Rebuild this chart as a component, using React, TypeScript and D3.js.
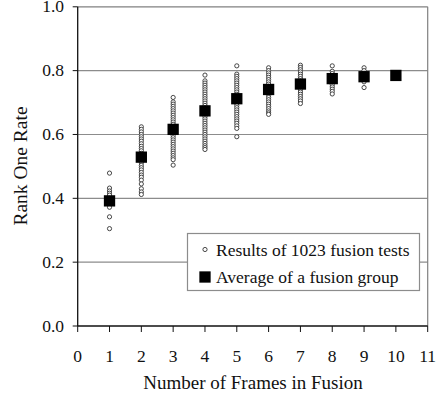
import React from "react";
import * as d3 from "d3";

const xTicks = [0, 1, 2, 3, 4, 5, 6, 7, 8, 9, 10, 11];
const yTicks = [0, 0.2, 0.4, 0.6, 0.8, 1.0];
const gridValues = [0.2, 0.4, 0.6, 0.8];

const frames = [1, 2, 3, 4, 5, 6, 7, 8, 9, 10];
const averages = [0.392, 0.529, 0.616, 0.674, 0.712, 0.741, 0.758, 0.775, 0.781, 0.785];

const results1 = [0.479, 0.432, 0.423, 0.416, 0.41, 0.4, 0.385, 0.372, 0.342, 0.305];
const results2 = [0.624, 0.616, 0.608, 0.6, 0.593, 0.586, 0.579, 0.571, 0.563, 0.556, 0.549, 0.541, 0.533, 0.526, 0.519, 0.511, 0.503, 0.496, 0.489, 0.481, 0.473, 0.466, 0.457, 0.445, 0.43, 0.42, 0.412];
const results3 = [0.716, 0.702, 0.695, 0.688, 0.681, 0.674, 0.667, 0.66, 0.653, 0.646, 0.639, 0.632, 0.625, 0.618, 0.611, 0.604, 0.597, 0.59, 0.583, 0.576, 0.569, 0.562, 0.555, 0.548, 0.541, 0.534, 0.527, 0.521, 0.504];
const results4 = [0.786, 0.768, 0.761, 0.754, 0.747, 0.74, 0.733, 0.726, 0.719, 0.712, 0.705, 0.698, 0.691, 0.684, 0.677, 0.67, 0.663, 0.656, 0.649, 0.642, 0.635, 0.628, 0.621, 0.614, 0.607, 0.6, 0.593, 0.586, 0.579, 0.572, 0.565, 0.559, 0.553];
const results5 = [0.815, 0.789, 0.782, 0.775, 0.768, 0.761, 0.754, 0.747, 0.74, 0.733, 0.726, 0.719, 0.712, 0.705, 0.698, 0.691, 0.684, 0.677, 0.67, 0.663, 0.656, 0.649, 0.642, 0.635, 0.627, 0.619, 0.593];
const results6 = [0.809, 0.8, 0.793, 0.786, 0.779, 0.772, 0.765, 0.758, 0.751, 0.744, 0.737, 0.73, 0.723, 0.716, 0.709, 0.702, 0.695, 0.688, 0.681, 0.674, 0.668, 0.663];
const results7 = [0.817, 0.81, 0.803, 0.796, 0.789, 0.782, 0.775, 0.768, 0.761, 0.754, 0.747, 0.74, 0.733, 0.726, 0.719, 0.712, 0.705, 0.697];
const results8 = [0.815, 0.798, 0.791, 0.784, 0.777, 0.77, 0.763, 0.756, 0.749, 0.742, 0.735, 0.727];
const results9 = [0.809, 0.8, 0.792, 0.786, 0.779, 0.772, 0.765, 0.747];
const results10 = [0.785];

const resultGroups = [results1, results2, results3, results4, results5, results6, results7, results8, results9, results10];

const W = 438;
const H = 399;
const FONT = "Liberation Serif, Times New Roman, Times, DejaVu Serif, serif";
const tStyle = { fontFamily: FONT };

export default function App() {
  const x = d3.scaleLinear().domain([0, 11]).range([77.7, 427.7]);
  const y = d3.scaleLinear().domain([0, 1]).range([326, 6.8]);
  const x0 = x(0);
  const x1 = x(11);
  const y0 = y(0);
  const yTop = y(1);

  const points: { fx: number; v: number }[] = [];
  resultGroups.forEach((g, i) => g.forEach((v) => points.push({ fx: frames[i], v })));

  const sq = 11.3;

  return (
    <svg width={W} height={H} style={{ position: "absolute", left: 0, top: 0, background: "#fff" }}>
      <rect x={0} y={0} width={W} height={H} fill="#fff" />
      {gridValues.map((g) => (
        <line key={g} x1={x0} x2={x1} y1={y(g)} y2={y(g)} stroke="#8c8c8c" strokeWidth={1.2} />
      ))}
      <line x1={x0} x2={x1} y1={yTop} y2={yTop} stroke="#808080" strokeWidth={1.2} />
      <line x1={x1} x2={x1} y1={yTop} y2={y0} stroke="#808080" strokeWidth={1.2} />
      <line x1={x0} x2={x0} y1={yTop} y2={y0} stroke="#111" strokeWidth={1.3} />
      <line x1={x0} x2={x1} y1={y0} y2={y0} stroke="#111" strokeWidth={1.3} />
      {xTicks.map((t) => (
        <g key={t}>
          <line x1={x(t)} x2={x(t)} y1={y0} y2={y0 + 6} stroke="#111" strokeWidth={1} />
          <text x={x(t)} y={362} textAnchor="middle" fontSize={17.5} fill="#111" style={tStyle}>{t}</text>
        </g>
      ))}
      {yTicks.map((t) => (
        <g key={t}>
          <line x1={x0 - 5} x2={x0} y1={y(t)} y2={y(t)} stroke="#111" strokeWidth={1} />
          <text x={64} y={y(t) + 5.5} textAnchor="end" fontSize={17.5} fill="#111" style={tStyle}>{t.toFixed(1)}</text>
        </g>
      ))}
      <text x={253} y={389} textAnchor="middle" fontSize={19} fill="#111" style={tStyle}>Number of Frames in Fusion</text>
      <text transform={`translate(27,${166}) rotate(-90)`} textAnchor="middle" fontSize={19.5} fill="#111" style={tStyle}>Rank One Rate</text>
      {points.map((p, i) => (
        <circle key={i} cx={x(p.fx)} cy={y(p.v)} r={2.1} fill="#fff" stroke="#333" strokeWidth={0.9} />
      ))}
      {frames.map((f, i) => (
        <rect key={f} x={x(f) - sq / 2} y={y(averages[i]) - sq / 2} width={sq} height={sq} fill="#000" />
      ))}
      <rect x={187.5} y={233.5} width={232} height={57} fill="#fff" stroke="#8c8c8c" strokeWidth={1.2} />
      <circle cx={205} cy={249.5} r={2.1} fill="#fff" stroke="#333" strokeWidth={0.9} />
      <text x={216} y={255.5} fontSize={17.5} fill="#111" style={tStyle}>Results of 1023 fusion tests</text>
      <rect x={205 - sq / 2} y={277 - sq / 2} width={sq} height={sq} fill="#000" />
      <text x={216} y={283} fontSize={17.5} fill="#111" style={tStyle}>Average of a fusion group</text>
    </svg>
  );
}
